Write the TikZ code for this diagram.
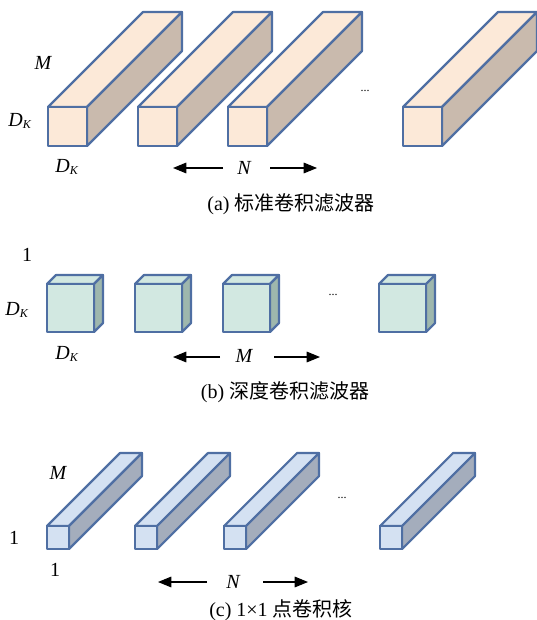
\documentclass[tikz,border=0pt]{standalone}
\usepackage{fontspec}
\setmainfont{Liberation Serif}
\newfontfamily\cjk{Noto Sans CJK SC}
\usetikzlibrary{arrows.meta}
\definecolor{edgeblue}{HTML}{4F6FA3}
\definecolor{peachfront}{HTML}{FCE9D8}
\definecolor{peachside}{HTML}{C9BAAD}
\definecolor{mintfront}{HTML}{D2E8E1}
\definecolor{mintside}{HTML}{9EB7AD}
\definecolor{bluefront}{HTML}{D4E1F2}
\definecolor{blueside}{HTML}{A4ADBC}
% #1 x, #2 y, #3 width, #4 height, #5 depth, #6 front, #7 side
\newcommand{\prismbox}[7]{
    \draw[boxline,fill=#6] (#1,#2)--(#1+#5,#2-#5)--(#1+#3+#5,#2-#5)--(#1+#3,#2)--cycle;
    \draw[boxline,fill=#7] (#1+#3,#2)--(#1+#3+#5,#2-#5)--(#1+#3+#5,#2+#4-#5)--(#1+#3,#2+#4)--cycle;
    \draw[boxline,fill=#6] (#1,#2) rectangle (#1+#3,#2+#4);
}
\newcommand{\dk}{D\textsubscript{\fontsize{9}{10}\selectfont K}}
\tikzset{
    boxline/.style={draw=edgeblue,line width=1.6pt,line join=round},
    lab/.style={font=\fontsize{15}{17}\selectfont\itshape},
    num/.style={font=\fontsize{15}{17}\selectfont},
    captext/.style={font=\fontsize{15}{17}\selectfont},
    dotsnode/.style={font=\fontsize{9}{10}\selectfont},
    arr/.style={-{Triangle[length=10pt,width=8pt]},line width=0.8pt}
}
\begin{document}
\begin{tikzpicture}[x=0.75pt,y=-0.75pt]
            \useasboundingbox (0,0) rectangle (536,620);
            % (a) standard filters
            \foreach \x in {48,138,228,403}{
                \prismbox{\x}{107}{39}{39}{95}{peachfront}{peachside}
            }
            \node[lab] (Ma) at (43,63) {M};
            \node[lab] (Dal) at (20,121) {\dk};
            \node[lab] (Dab) at (67,167) {\dk};
            \node[dotsnode] (dotsa) at (365,91) {...};
            \node[lab] (Na) at (244,168) {N};
            \coordinate (Na1) at (223,168);
            \coordinate (Na2) at (173,168);
            \coordinate (Na3) at (270,168);
            \coordinate (Na4) at (317,168);
            \draw[arr] (Na1)--(Na2);
            \draw[arr] (Na3)--(Na4);
            \node[captext] (capa) at (291,204) {(a) {\cjk 标准卷积滤波器}};
            % (b) depthwise filters
            \foreach \x in {47,135,223,379}{
                \prismbox{\x}{284}{47}{48}{9}{mintfront}{mintside}
            }
            \node[num] (onb) at (27,255) {1};
            \node[lab] (Dbl) at (17,310) {\dk};
            \node[lab] (Dbb) at (67,354) {\dk};
            \node[dotsnode] (dotsb) at (333,295) {...};
            \node[lab] (Mb) at (244,356) {M};
            \coordinate (Mb1) at (220,357);
            \coordinate (Mb2) at (173,357);
            \coordinate (Mb3) at (274,357);
            \coordinate (Mb4) at (320,357);
            \draw[arr] (Mb1)--(Mb2);
            \draw[arr] (Mb3)--(Mb4);
            \node[captext] (capb) at (285,392) {(b) {\cjk 深度卷积滤波器}};
            % (c) 1x1 pointwise kernels
            \foreach \x in {47,135,224,380}{
                \prismbox{\x}{526}{22}{23}{73}{bluefront}{blueside}
            }
            \node[lab] (Mc) at (58,473) {M};
            \node[num] (onl) at (14,538) {1};
            \node[num] (onc) at (55,570) {1};
            \node[dotsnode] (dotsc) at (342,498) {...};
            \node[lab] (Nc) at (233,582) {N};
            \coordinate (Nc1) at (207,582);
            \coordinate (Nc2) at (158,582);
            \coordinate (Nc3) at (263,582);
            \coordinate (Nc4) at (308,582);
            \draw[arr] (Nc1)--(Nc2);
            \draw[arr] (Nc3)--(Nc4);
            \node[captext] (capc) at (281,610) {(c) 1×1 {\cjk 点卷积核}};
        \end{tikzpicture}
\end{document}
